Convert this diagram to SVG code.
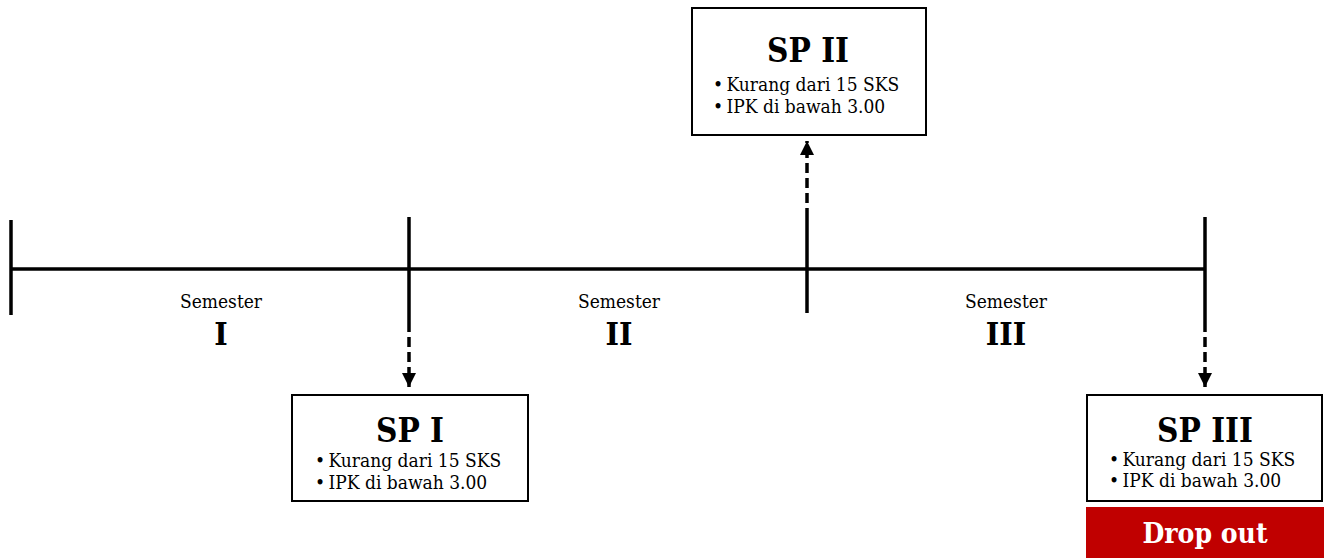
<svg xmlns="http://www.w3.org/2000/svg" width="1331" height="558" viewBox="0 0 1331 558">
<style>
.ln{stroke:#000;stroke-width:3.5;fill:none}
.dash{stroke:#000;stroke-width:3.5;fill:none;stroke-dasharray:10 5}
.box{fill:#fff;stroke:#000;stroke-width:2}
.t{font-family:"DejaVu Serif Condensed","DejaVu Serif","Liberation Serif",serif;fill:#000}
.h{font-size:33px;font-weight:bold;text-anchor:middle}
.b{font-size:19px}
.sem{font-size:19px;text-anchor:middle}
.num{font-size:32px;font-weight:bold;text-anchor:middle}
</style>
<defs>
<marker id="ah" viewBox="0 0 10 10" refX="10" refY="5" markerWidth="4.2" markerHeight="4" orient="auto" markerUnits="strokeWidth">
<path d="M0,0 L10,5 L0,10 Z" fill="#000"/>
</marker>
</defs>
<g id="timeline">
<line class="ln" x1="10" y1="269" x2="1206" y2="269"/>
<line class="ln" x1="11" y1="220" x2="11" y2="315"/>
<line class="ln" x1="409" y1="217" x2="409" y2="322"/>
<line class="ln" x1="807" y1="218" x2="807" y2="313"/>
<line class="ln" x1="1205" y1="217" x2="1205" y2="322"/>
</g>
<g id="labels">
<text class="t sem" x="221" y="308">Semester</text>
<text class="t num" x="221" y="345">I</text>
<text class="t sem" x="619" y="308">Semester</text>
<text class="t num" x="619" y="345">II</text>
<text class="t sem" x="1006" y="308">Semester</text>
<text class="t num" x="1006" y="345">III</text>
</g>
<g id="connectors">
<line class="dash" x1="409" y1="322" x2="409" y2="387" marker-end="url(#ah)"/>
<line class="dash" x1="807" y1="218" x2="807" y2="141" marker-end="url(#ah)"/>
<line class="dash" x1="1205" y1="322" x2="1205" y2="387" marker-end="url(#ah)"/>
</g>
<g id="sp2">
<rect class="box" x="692" y="8" width="234" height="127"/>
<text class="t h" x="808" y="62">SP II</text>
<text class="t b" x="713" y="91">•&#8201;Kurang dari 15 SKS</text>
<text class="t b" x="713" y="113">•&#8201;IPK di bawah 3.00</text>
</g>
<g id="sp1">
<rect class="box" x="292" y="395" width="236" height="106"/>
<text class="t h" x="410" y="442">SP I</text>
<text class="t b" x="315" y="467">•&#8201;Kurang dari 15 SKS</text>
<text class="t b" x="315" y="489">•&#8201;IPK di bawah 3.00</text>
</g>
<g id="sp3">
<rect class="box" x="1087" y="395" width="235" height="106"/>
<text class="t h" x="1205" y="442">SP III</text>
<text class="t b" x="1109" y="466">•&#8201;Kurang dari 15 SKS</text>
<text class="t b" x="1109" y="487">•&#8201;IPK di bawah 3.00</text>
</g>
<g id="dropout">
<rect x="1086" y="507" width="238" height="51" fill="#C00000"/>
<text class="t" x="1205" y="543" font-size="28" font-weight="bold" text-anchor="middle" style="fill:#fff">Drop out</text>
</g>
</svg>
